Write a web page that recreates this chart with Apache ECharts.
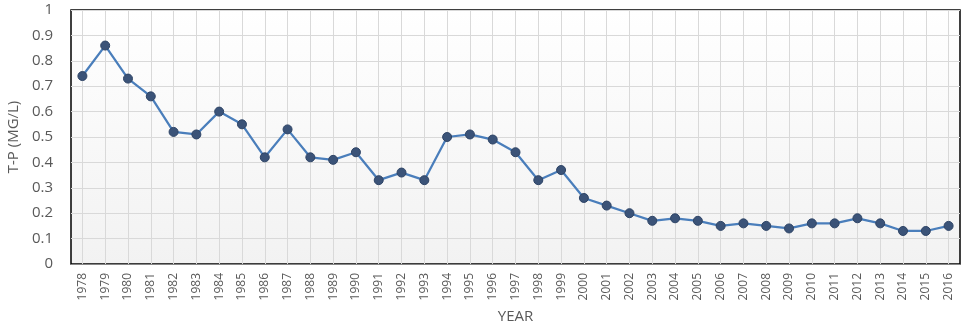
<!DOCTYPE html>
<html><head><meta charset="utf-8">
<script src="https://cdn.jsdelivr.net/npm/echarts@6/dist/echarts.min.js"></script>
<style>html,body{margin:0;padding:0;background:#fff}#c{width:967px;height:329px}</style>
</head><body><div id="c"></div>
<script>
const years = ['1978','1979','1980','1981','1982','1983','1984','1985','1986','1987','1988','1989','1990','1991','1992','1993','1994','1995','1996','1997','1998','1999','2000','2001','2002','2003','2004','2005','2006','2007','2008','2009','2010','2011','2012','2013','2014','2015','2016'];
const tp = [0.74,0.86,0.73,0.66,0.52,0.51,0.60,0.55,0.42,0.53,0.42,0.41,0.44,0.33,0.36,0.33,0.50,0.51,0.49,0.44,0.33,0.37,0.26,0.23,0.20,0.17,0.18,0.17,0.15,0.16,0.15,0.14,0.16,0.16,0.18,0.16,0.13,0.13,0.15];
const yTicks = {min:0, max:1, interval:0.1};
const chart = echarts.init(document.getElementById('c'));
chart.setOption({
  animation:false,
  grid:{left:71,right:7,top:10,bottom:65,outerBoundsMode:'none',containLabel:false,show:true,borderColor:'#000',borderWidth:1.5,
    backgroundColor:{type:'linear',x:0,y:0,x2:0,y2:1,colorStops:[{offset:0,color:'#ffffff'},{offset:1,color:'#f2f2f2'}]}},
  xAxis:{type:'category',data:years,boundaryGap:true,
    name:'YEAR',nameLocation:'middle',nameGap:45,
    nameTextStyle:{fontFamily:'Open Sans',fontSize:15,color:'#595959'},
    axisLine:{lineStyle:{color:'#868686',width:1}},
    axisTick:{show:false},
    splitLine:{show:false},
    axisLabel:{rotate:90,interval:0,margin:9,fontFamily:'Open Sans',fontSize:12,color:'#595959'}},
  yAxis:{type:'value',min:yTicks.min,max:yTicks.max,interval:yTicks.interval,
    name:'T-P (MG/L)',nameLocation:'middle',nameGap:47,nameRotate:90,
    nameTextStyle:{fontFamily:'Open Sans',fontSize:15,color:'#595959'},
    axisLine:{show:false},axisTick:{show:false},
    splitLine:{lineStyle:{color:'#d9d9d9',width:1}},
    axisLabel:{margin:18,fontFamily:'Open Sans',fontSize:15,color:'#595959',formatter:v=>String(+v.toFixed(1))}},
  series:[
    {type:'line',data:[],z:1,silent:true,
      markLine:{silent:true,z:1,symbol:['none','none'],label:{show:false},animation:false,
        lineStyle:{color:'#d9d9d9',width:1,type:'solid'},
        data:years.map(y=>({xAxis:y}))}},
    {type:'line',data:tp,symbol:'circle',symbolSize:9,z:3,
    lineStyle:{color:'#4a7ebb',width:2.25},
    itemStyle:{color:'#3b5378',borderColor:'#2e4466',borderWidth:1}}]
});
</script></body></html>
